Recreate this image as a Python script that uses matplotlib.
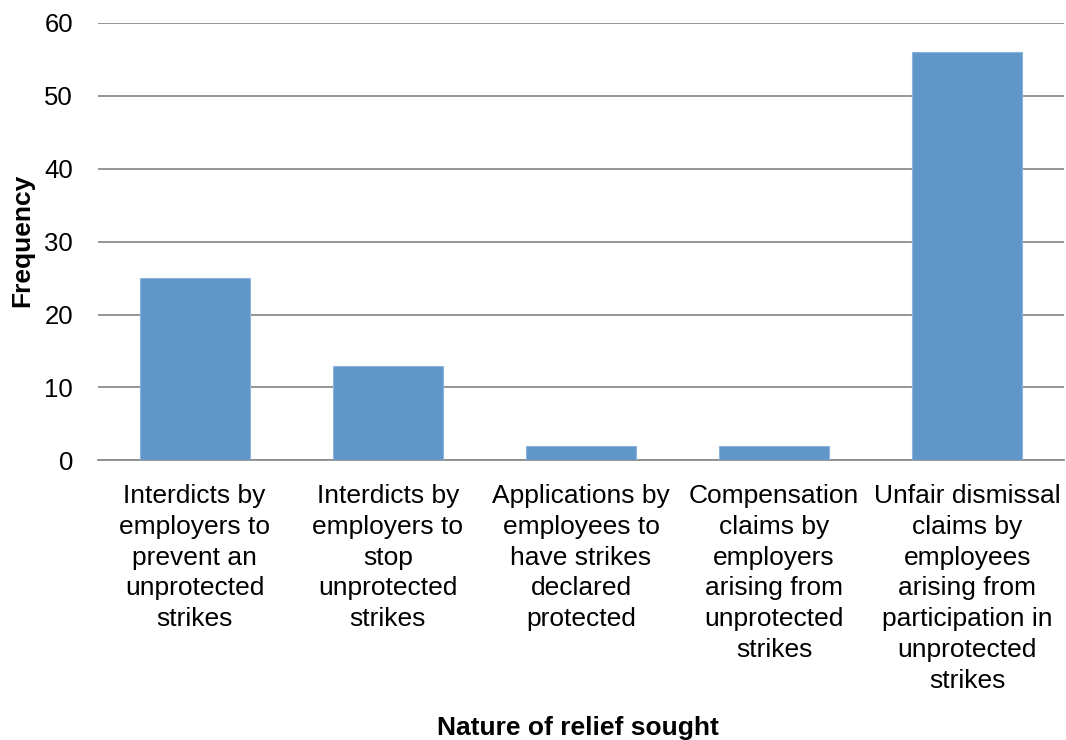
import matplotlib
matplotlib.use("Agg")
import matplotlib.pyplot as plt

categories = [
    "Interdicts by\nemployers to\nprevent an\nunprotected\nstrikes",
    "Interdicts by\nemployers to\nstop\nunprotected\nstrikes",
    "Applications by\nemployees to\nhave strikes\ndeclared\nprotected",
    "Compensation\nclaims by\nemployers\narising from\nunprotected\nstrikes",
    "Unfair dismissal\nclaims by\nemployees\narising from\nparticipation in\nunprotected\nstrikes",
]
frequency = [25, 13, 2, 2, 56]
yticks = [0, 10, 20, 30, 40, 50, 60]

plt.rcParams['font.family'] = ['Liberation Sans', 'DejaVu Sans']

fig = plt.figure(figsize=(10.66, 7.4), dpi=100)
ax = fig.add_axes([0.092, 0.378, 0.906, 0.591])

x = list(range(len(categories)))
ax.bar(x, frequency, width=0.57, color="#6096C8", edgecolor="#8DB3DD", linewidth=0.8, zorder=3)
ax.set_xlim(-0.5, len(categories) - 0.5)
ax.set_ylim(0, 60)
ax.set_yticks(yticks)
ax.yaxis.grid(True, color="#8C8C8C", linewidth=1.3, zorder=0)
ax.set_axisbelow(True)
for s in ["top", "right", "left"]:
    ax.spines[s].set_visible(False)
ax.spines["bottom"].set_color("#8C8C8C")
ax.spines["bottom"].set_linewidth(1.3)
ax.tick_params(axis="both", length=0, colors="black")
ax.tick_params(axis="y", pad=18, labelsize=18.5)
ax.tick_params(axis="x", pad=17, labelsize=19)
ax.set_xticks(x)
ax.set_xticklabels(categories, linespacing=1.36)
fig.text(22 / 1066, 1 - 240 / 740, "Frequency", rotation=90, ha="center", va="center",
         fontsize=19, fontweight="bold")
fig.text(578 / 1066, 1 - 728 / 740, "Nature of relief sought", ha="center", va="center",
         fontsize=19, fontweight="bold")
fig.savefig("out.png", dpi=100)
